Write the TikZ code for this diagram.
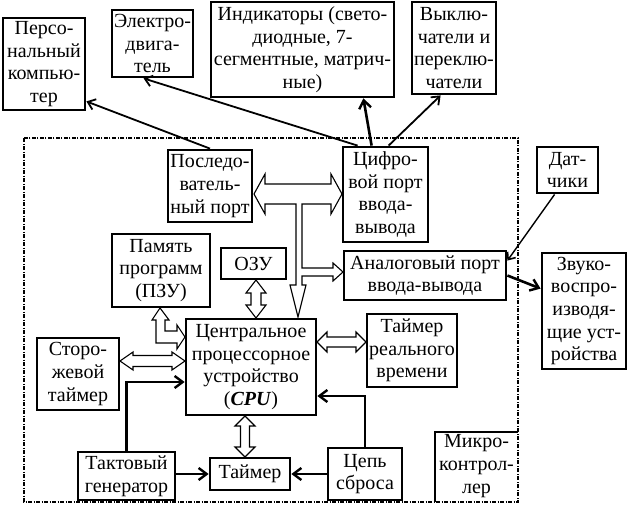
\documentclass[tikz,border=0pt]{standalone}
\usepackage{fontspec}
\setmainfont{Liberation Serif}
\usetikzlibrary{arrows.meta,calc}
\newcommand{\hdarrow}[6]{\draw[hollow] (#1,#3) -- (#1+#4,#3-#5) -- (#1+#4,#3-#6) -- (#2-#4,#3-#6) -- (#2-#4,#3-#5) -- (#2,#3) -- (#2-#4,#3+#5) -- (#2-#4,#3+#6) -- (#1+#4,#3+#6) -- (#1+#4,#3+#5) -- cycle;}
\newcommand{\vdarrow}[6]{\draw[hollow] (#3,#1) -- (#3-#5,#1+#4) -- (#3-#6,#1+#4) -- (#3-#6,#2-#4) -- (#3-#5,#2-#4) -- (#3,#2) -- (#3+#5,#2-#4) -- (#3+#6,#2-#4) -- (#3+#6,#1+#4) -- (#3+#5,#1+#4) -- cycle;}
\begin{document}
\begin{tikzpicture}[x=1pt,y=-1pt,
  box/.style={draw, line width=2.8pt, align=center, inner sep=0pt, font={\fontsize{20}{22.6}\selectfont}},
  txt/.style={align=center, inner sep=0pt, font={\fontsize{20}{22.6}\selectfont}},
  hollow/.style={draw, fill=white, line width=1.1pt, line join=miter},
  thick arrow/.style={line width=2.6pt, -{Straight Barb[length=8pt,width=12pt,line width=2.4pt]}},
  mid arrow/.style={line width=1.8pt, -{Straight Barb[length=7pt,width=11pt,line width=1.8pt]}},
  thin arrow/.style={line width=1.4pt, -{Straight Barb[length=6pt,width=10pt,line width=1.6pt]}},
  border/.style={line width=1.5pt, dash pattern=on 4pt off 1.5pt on 1pt off 1.5pt}]
\useasboundingbox (0,0) rectangle (627,511);
% outer microcontroller border
\draw[border] (24,138) rectangle (518,502);
% boxes
\node[box, minimum width=82pt, minimum height=92pt] (pc) at (44,64) {Персо-\\нальный\\компью-\\тер};
\node[box, minimum width=81pt, minimum height=67pt] (motor) at (152.5,43.5) {Электро-\\двига-\\тель};
\node[box, minimum width=183pt, minimum height=95pt] (ind) at (302.5,49.5) {Индикаторы (свето-\\диодные, 7-\\сегментные, матрич-\\ные)};
\node[box, minimum width=84pt, minimum height=92pt] (sw) at (454,48) {Выклю-\\чатели и\\переклю-\\чатели};
\node[box, minimum width=84pt, minimum height=72pt] (ser) at (210,186) {Последо-\\ватель-\\ный порт};
\node[box, minimum width=85pt, minimum height=95pt] (dig) at (385.5,194.5) {Цифро-\\вой порт\\ввода-\\вывода};
\node[box, minimum width=61pt, minimum height=46pt] (sens) at (567.5,170) {Дат-\\чики};
\node[box, minimum width=162pt, minimum height=49pt] (ana) at (425,275.5) {Аналоговый порт\\ввода-вывода};
\node[box, minimum width=84pt, minimum height=116pt] (snd) at (584,311) {Звуко-\\воспро-\\изводя-\\щие уст-\\ройства};
\node[box, minimum width=98pt, minimum height=73pt] (rom) at (161,270.5) {Память\\программ\\(ПЗУ)};
\node[box, minimum width=65pt, minimum height=31pt] (ram) at (253.5,263.5) {ОЗУ};
\node[box, minimum width=130pt, minimum height=96pt] (cpu) at (251,367) {Центральное\\процессорное\\устройство\\(\textbf{\textit{CPU}})};
\node[box, minimum width=90pt, minimum height=73pt] (rtc) at (412,350.5) {Таймер\\реального\\времени};
\node[box, minimum width=82pt, minimum height=72pt] (wd) at (78,374) {Сторо-\\жевой\\таймер};
\node[box, minimum width=97pt, minimum height=48pt] (clk) at (126.5,476) {Тактовый\\генератор};
\node[box, minimum width=80pt, minimum height=32pt] (tmr) at (250,474) {Таймер};
\node[box, minimum width=74pt, minimum height=52pt] (rst) at (365,474) {Цепь\\сброса};
\draw[line width=2.8pt] (435,502) -- (435,432) -- (518,432);
\node[txt] (mc) at (476.5,466) {Микро-\\контрол-\\лер};
% line connectors
\draw[mid arrow] (ser.north) -- ([yshift=10pt]pc.south east);
\draw[mid arrow] ([xshift=16pt]dig.north west) -- ([xshift=33pt]motor.south west);
\draw[thick arrow] ([xshift=30pt]dig.north west) -- ([xshift=-32pt]ind.south east);
\draw[mid arrow] ([xshift=47pt]dig.north west) -- ([xshift=30pt]sw.south west);
\draw[thin arrow] ([xshift=19pt]sens.south west) -- ([yshift=-11pt]ana.north east);
\draw[thick arrow] (ana.east) -- ([yshift=-37pt]snd.north west);
\draw[thick arrow] (clk.north) |- ([yshift=-15pt]cpu.west);
\draw[thick arrow] (tmr.west -| clk.east) -- (tmr.west);
\draw[thick arrow] (rst.west) -- (tmr.east);
\draw[thick arrow] (rst.north) |- ([yshift=-29pt]cpu.east);
% hollow bus arrows
\draw[hollow] (254,194) -- (265,174) -- (265,184) -- (331,184) -- (331,174) -- (342,194) -- (331,214) -- (331,204) -- (302,204) -- (302,268) -- (333,268) -- (333,263) -- (343,272) -- (333,281) -- (333,276) -- (302,276) -- (302,285) -- (306,285) -- (298,317) -- (290,285) -- (296,285) -- (296,204) -- (265,204) -- (265,214) -- cycle;
\vdarrow{280}{318}{256}{13}{10}{5}
\draw[hollow] (160,308) -- (169,320) -- (165,320) -- (165,331) -- (177,331) -- (177,325) -- (185,337) -- (177,349) -- (177,343) -- (156,343) -- (156,320) -- (152,320) -- cycle;
\hdarrow{120}{185}{361}{13}{9}{5.5}
\hdarrow{317}{366}{342}{10}{10}{5}
\vdarrow{416}{457}{245}{10}{10}{4.5}
\end{tikzpicture}
\end{document}
